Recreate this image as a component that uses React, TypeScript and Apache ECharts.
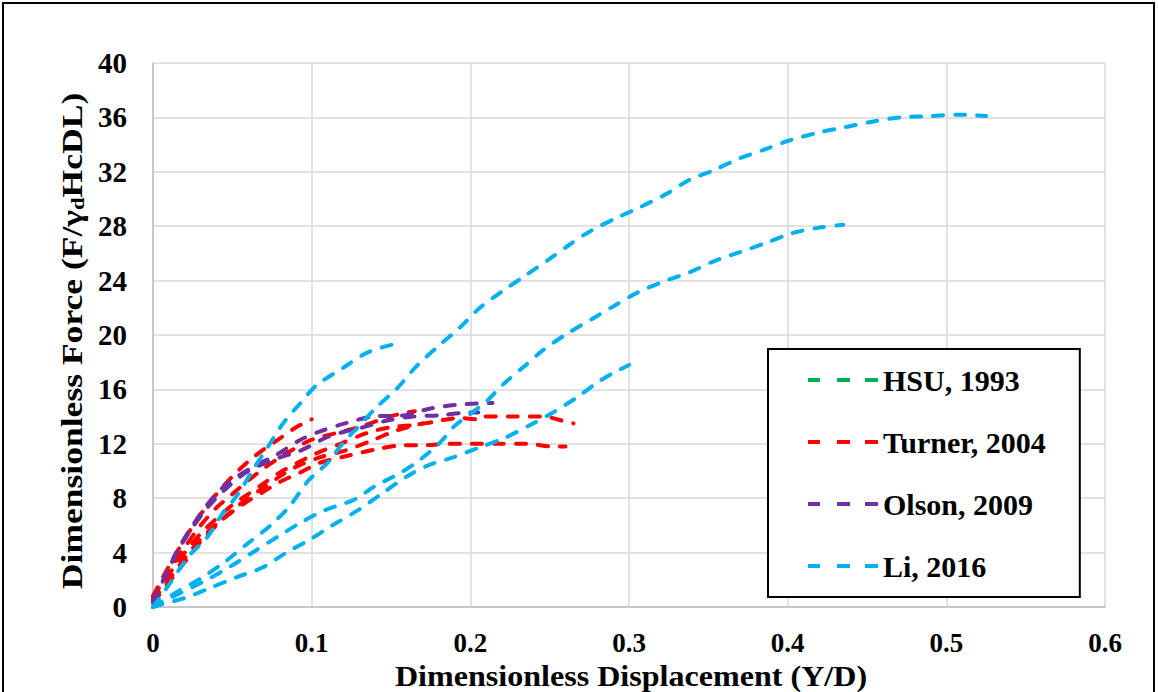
import React, { useEffect, useRef } from "react";
import * as echarts from "echarts";

// ---- data: [Y/D, F/(γd·Hc·D·L)] ----
const hsu1993: [number, number][] = [];

const turnerA: [number, number][] = [
  [0, 0.5], [0.01, 2], [0.02, 3.6], [0.03, 5], [0.04, 6.1], [0.05, 7], [0.06, 7.8], [0.07, 8.5],
  [0.08, 9.2], [0.093, 9.9], [0.105, 10.6], [0.122, 11.1], [0.141, 11.6], [0.158, 11.9],
  [0.172, 11.9], [0.185, 12], [0.2, 12], [0.219, 12], [0.236, 12], [0.252, 11.8], [0.26, 11.8],
];
const turnerB: [number, number][] = [
  [0, 0.8], [0.01, 2.4], [0.02, 4], [0.03, 5.4], [0.04, 6.5], [0.05, 7.5], [0.06, 8.3], [0.07, 9.1],
  [0.08, 9.9], [0.091, 10.6], [0.103, 11.3], [0.118, 12], [0.135, 12.8], [0.149, 13.2],
  [0.166, 13.4], [0.176, 13.6], [0.193, 13.9], [0.205, 13.8], [0.207, 14], [0.227, 14],
  [0.246, 14], [0.258, 13.7], [0.265, 13.5],
];
const turnerC: [number, number][] = [
  [0, 0.6], [0.01, 2.6], [0.02, 4.4], [0.03, 6], [0.04, 7.3], [0.05, 8.3], [0.06, 9.3], [0.07, 10.2],
  [0.08, 11], [0.09, 11.7], [0.1, 12.3], [0.116, 12.8], [0.132, 13.3], [0.149, 14], [0.16, 14.3],
  [0.165, 14.4],
];
const turnerD: [number, number][] = [
  [0, 0.8], [0.01, 3], [0.02, 5], [0.03, 6.8], [0.04, 8.3], [0.05, 9.6], [0.06, 10.7], [0.07, 11.6],
  [0.08, 12.4], [0.09, 13.2], [0.1, 13.8],
];
const turnerE: [number, number][] = [
  [0, 0.3], [0.01, 1.8], [0.02, 3.3], [0.03, 4.8], [0.04, 6], [0.05, 7.1], [0.06, 8], [0.07, 8.8],
  [0.08, 9.6], [0.09, 10.3], [0.105, 11], [0.121, 11.5], [0.137, 12.2], [0.154, 13], [0.17, 13.5],
];

const olsonA: [number, number][] = [
  [0, 0.5], [0.009, 2.6], [0.016, 4.3], [0.025, 6], [0.036, 7.8], [0.047, 9.1], [0.063, 10.3],
  [0.078, 11.2], [0.093, 12.3], [0.105, 12.9], [0.121, 13.5], [0.138, 14], [0.159, 14.1],
  [0.175, 14.6], [0.195, 14.9], [0.214, 15],
];
const olsonB: [number, number][] = [
  [0, 0.4], [0.008, 2.3], [0.015, 4], [0.024, 5.7], [0.035, 7.4], [0.046, 8.7], [0.06, 10],
  [0.08, 11], [0.093, 11.5], [0.11, 12.5], [0.124, 13], [0.132, 13.2], [0.147, 13.7],
  [0.164, 14], [0.181, 14.1], [0.2, 14.3], [0.205, 14.3],
];

const liA: [number, number][] = [
  [0, 0], [0.004, 0.15], [0.021, 0.7], [0.036, 1.4], [0.053, 2.2], [0.069, 2.9], [0.084, 4],
  [0.098, 4.9], [0.113, 6], [0.129, 7.1], [0.145, 8.4], [0.16, 9.6], [0.173, 10.4], [0.189, 11],
  [0.205, 11.7], [0.221, 12.4], [0.238, 13.4], [0.252, 14.3], [0.267, 15.4], [0.28, 16.5],
  [0.29, 17.2], [0.3, 17.8],
];
const liB: [number, number][] = [
  [0, 0], [0.015, 0.9], [0.034, 2], [0.049, 3], [0.064, 4.1], [0.079, 5.2], [0.093, 6.2],
  [0.108, 7.1], [0.127, 7.9], [0.14, 8.9], [0.155, 9.8], [0.168, 10.8], [0.181, 12.1],
  [0.19, 13.3], [0.2, 14.2], [0.21, 15.1], [0.22, 16.3], [0.233, 17.6], [0.246, 18.9],
  [0.261, 20.1], [0.277, 21.2], [0.29, 22.1], [0.305, 23.1], [0.321, 23.9], [0.338, 24.6],
  [0.353, 25.4], [0.37, 26.1], [0.387, 26.8], [0.403, 27.5], [0.42, 27.9], [0.435, 28.1],
];
const liC: [number, number][] = [
  [0, 0], [0.015, 1.1], [0.03, 2.1], [0.045, 3.3], [0.06, 4.7], [0.074, 6], [0.086, 7.4],
  [0.098, 9.3], [0.11, 10.6], [0.12, 12.1], [0.129, 13.2], [0.141, 14.7], [0.154, 16.1],
  [0.166, 17.7], [0.181, 19.3], [0.193, 20.5], [0.206, 22], [0.22, 23.2], [0.235, 24.4],
  [0.25, 25.6], [0.262, 26.6], [0.275, 27.6], [0.292, 28.6], [0.307, 29.4], [0.324, 30.4],
  [0.338, 31.4], [0.353, 32.1], [0.37, 33], [0.387, 33.7], [0.401, 34.3], [0.42, 34.9],
  [0.437, 35.3], [0.454, 35.7], [0.471, 36], [0.49, 36.1], [0.507, 36.2], [0.525, 36.1],
];
const liD: [number, number][] = [
  [0, 0], [0.005, 0.8], [0.011, 1.8], [0.023, 3.8], [0.034, 5.1], [0.044, 6.9], [0.053, 8.2],
  [0.063, 10.1], [0.072, 11.7], [0.082, 13.5], [0.093, 15], [0.103, 16.3], [0.12, 17.6],
  [0.135, 18.7], [0.151, 19.3], [0.157, 19.4],
];

const studies = [
  { name: "HSU, 1993", color: "#00b050", curves: [hsu1993] },
  { name: "Turner, 2004", color: "#ff0000", curves: [turnerA, turnerB, turnerC, turnerD, turnerE] },
  { name: "Olson, 2009", color: "#7030a0", curves: [olsonA, olsonB] },
  { name: "Li, 2016", color: "#00b0f0", curves: [liA, liB, liC, liD] },
];

const xTicks = { min: 0, max: 0.6, interval: 0.1 };
const yTicks = { min: 0, max: 40, interval: 4 };

const FONT = '"Liberation Serif", "Times New Roman", serif';
const DASH_ICON = "path://M0,0h12v4h-12z M29,0h13v4h-13z M57,0h13v4h-13z";

export default function App() {
  const ref = useRef<HTMLDivElement>(null);
  useEffect(() => {
    if (!ref.current) return;
    const chart = echarts.init(ref.current, undefined, { renderer: "svg" });
    const series: any[] = [];
    studies.forEach((s) => {
      s.curves.forEach((c) => {
        series.push({
          type: "line",
          name: s.name,
          data: c,
          smooth: 0.3,
          symbol: "none",
          showSymbol: false,
          color: s.color,
          lineStyle: { color: s.color, width: 4, type: [10, 12], cap: "round" },
          emphasis: { disabled: true },
        });
      });
    });
    chart.setOption({
      animation: false,
      backgroundColor: "#ffffff",
      grid: { left: 153, right: 53, top: 63, bottom: 85, containLabel: false },
      xAxis: {
        type: "value",
        ...xTicks,
        axisLine: { show: true, lineStyle: { color: "#bfbfbf", width: 1.5 } },
        axisTick: { show: false },
        splitLine: { show: true, lineStyle: { color: "#d9d9d9", width: 1.5 } },
        axisLabel: {
          margin: 22,
          fontFamily: FONT,
          fontWeight: "bold",
          fontSize: 27,
          color: "#000",
          formatter: (v: number) => (v === 0 ? "0" : v.toFixed(1)),
        },
      },
      yAxis: {
        type: "value",
        ...yTicks,
        axisLine: { show: true, lineStyle: { color: "#bfbfbf", width: 1.5 } },
        axisTick: { show: false },
        splitLine: { show: true, lineStyle: { color: "#d9d9d9", width: 1.5 } },
        axisLabel: {
          margin: 26,
          fontFamily: FONT,
          fontWeight: "bold",
          fontSize: 29,
          color: "#000",
        },
      },
      legend: {
        orient: "vertical",
        left: 768,
        top: 349,
        padding: [16, 34, 16, 40],
        itemGap: 32,
        itemWidth: 70,
        itemHeight: 4,
        icon: DASH_ICON,
        borderColor: "#000",
        borderWidth: 2,
        backgroundColor: "#fff",
        selectedMode: false,
        data: studies.map((s) => ({ name: s.name, icon: DASH_ICON, itemStyle: { color: s.color } })),
        textStyle: { fontFamily: FONT, fontWeight: "bold", fontSize: 30, color: "#000" },
      },
      graphic: [
        {
          type: "rect",
          shape: { x: 3, y: 3, width: 1151, height: 720 },
          style: { fill: "none", stroke: "#000", lineWidth: 2 },
          silent: true,
        },
        {
          type: "text",
          x: 72,
          y: 341,
          rotation: Math.PI / 2,
          scaleX: 1.185,
          style: {
            text: "Dimensionless Force (F/γ{sub|d}HcDL)",
            font: `bold 30px ${FONT}`,
            fill: "#000",
            align: "center",
            verticalAlign: "middle",
            rich: {
              sub: { fontFamily: FONT, fontWeight: "bold", fontSize: 19, verticalAlign: "bottom", lineHeight: 12 },
            },
          },
        },
        {
          type: "text",
          x: 631,
          y: 676,
          scaleX: 1.07,
          style: {
            text: "Dimensionless Displacement (Y/D)",
            font: `bold 30px ${FONT}`,
            fill: "#000",
            align: "center",
            verticalAlign: "middle",
          },
        },
      ],
      series,
    });
    return () => chart.dispose();
  }, []);
  return (
    <div
      ref={ref}
      style={{ position: "fixed", left: 0, top: 0, width: 1158, height: 692, background: "#fff" }}
    />
  );
}
